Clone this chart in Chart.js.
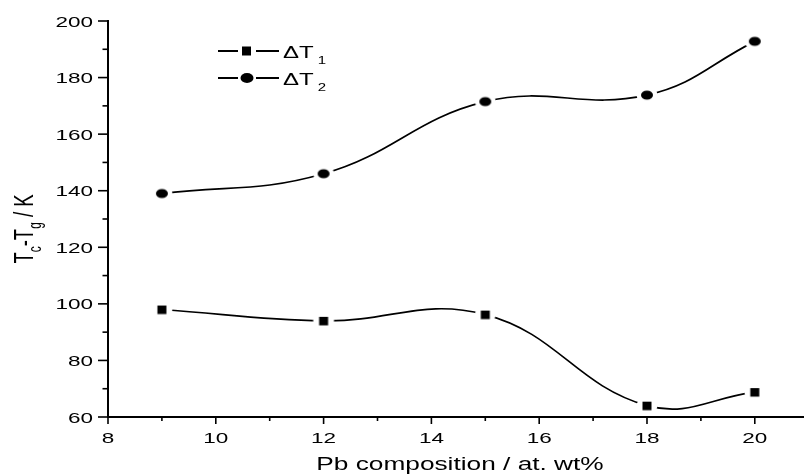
<!DOCTYPE html>
<html lang="en">
<head>
    <meta charset="UTF-8">
    <title>Tc-Tg vs Pb composition</title>
    <script src="https://cdn.jsdelivr.net/npm/chart.js"></script>
    <style>body { margin: 0; background: #fff; }</style>
</head>
<body>
<canvas id="tcChart" width="809" height="476"></canvas>
<script>
    // values
    const pbComposition = [9, 12, 15, 18, 20];
    const deltaT1 = [98, 94, 96.2, 64, 68.8];
    const deltaT2 = [139, 146, 171.5, 173.8, 192.8];
    const seriesNames = ['ΔT', 'ΔT'];
    const seriesSubs = ['1', '2'];
    const xTickLabels = [8, 10, 12, 14, 16, 18, 20];
    const yTickLabels = [60, 80, 100, 120, 140, 160, 180, 200];

    const FONT = '"Liberation Sans", Arial, sans-serif';
    const STRETCH = 1.5; // the original figure is squashed wide

    // marker images with a white halo so the curve stops short of them
    function makeMarker(kind) {
        const c = document.createElement('canvas');
        c.width = 24; c.height = 18;
        const g = c.getContext('2d');
        g.fillStyle = '#fff';
        g.beginPath();
        g.ellipse(12, 9, 10.5, 8, 0, 0, Math.PI * 2);
        g.fill();
        g.fillStyle = '#000';
        if (kind === 'square') {
            g.fillRect(7.5, 5, 9, 8.5);
        } else {
            g.beginPath();
            g.ellipse(12, 9, 6, 4.5, 0, 0, Math.PI * 2);
            g.fill();
        }
        return c;
    }
    const squareMark = makeMarker('square');
    const roundMark = makeMarker('round');

    // draw text widened horizontally; returns drawn width
    function wideText(ctx, text, x, y, size, align) {
        ctx.save();
        ctx.font = size + 'px ' + FONT;
        const w = ctx.measureText(text).width * STRETCH;
        const x0 = align === 'center' ? x - w / 2 : align === 'right' ? x - w : x;
        ctx.translate(x0, y);
        ctx.scale(STRETCH, 1);
        ctx.textAlign = 'left';
        ctx.textBaseline = 'alphabetic';
        ctx.fillStyle = '#000';
        ctx.fillText(text, 0, 0);
        ctx.restore();
        return w;
    }

    const axisDecor = {
        id: 'axisDecor',
        afterDraw(chart) {
            const ctx = chart.ctx;
            const a = chart.chartArea;
            const xs = chart.scales.x, ys = chart.scales.y;
            ctx.save();
            ctx.strokeStyle = '#000';
            ctx.lineWidth = 1.6;

            // x ticks (outside, minor ones shorter)
            xs.ticks.forEach(t => {
                if (!Number.isInteger(t.value)) return;
                const px = xs.getPixelForValue(t.value);
                const len = xTickLabels.includes(t.value) ? 7 : 4;
                ctx.beginPath();
                ctx.moveTo(px, a.bottom);
                ctx.lineTo(px, a.bottom + len);
                ctx.stroke();
            });
            ys.ticks.forEach(t => {
                const py = ys.getPixelForValue(t.value);
                const len = yTickLabels.includes(t.value) ? 10 : 5.5;
                ctx.beginPath();
                ctx.moveTo(a.left - len, py);
                ctx.lineTo(a.left, py);
                ctx.stroke();
            });

            xTickLabels.forEach(v => {
                wideText(ctx, String(v), xs.getPixelForValue(v), a.bottom + 26, 15, 'center');
            });
            yTickLabels.forEach(v => {
                wideText(ctx, String(v), a.left - 15, ys.getPixelForValue(v) + 5.5, 15, 'right');
            });

            // x title
            wideText(ctx, 'Pb composition / at. wt%', 460, 470, 17.5, 'center');

            // y title with subscripts, rotated
            const parts = [['T', 18.5, 0], ['c', 12, 5], ['-T', 18.5, 0], ['g', 12, 5], [' / K', 18.5, 0]];
            ctx.save();
            let total = 0;
            parts.forEach(p => { ctx.font = p[1] + 'px ' + FONT; total += ctx.measureText(p[0]).width; });
            ctx.translate(33, 229);
            ctx.scale(STRETCH, 1);
            ctx.rotate(-Math.PI / 2);
            ctx.fillStyle = '#000';
            ctx.textBaseline = 'alphabetic';
            let cx = -total / 2;
            parts.forEach(p => {
                ctx.font = p[1] + 'px ' + FONT;
                ctx.fillText(p[0], cx, p[2]);
                cx += ctx.measureText(p[0]).width;
            });
            ctx.restore();

            // legend inside the plot
            chart.data.datasets.forEach((ds, i) => {
                const ly = 51 + i * 27;
                ctx.lineWidth = 1.8;
                ctx.beginPath();
                ctx.moveTo(218, ly);
                ctx.lineTo(279, ly);
                ctx.stroke();
                ctx.fillStyle = '#fff';
                ctx.fillRect(238, ly - 6, 18, 12);
                ctx.fillStyle = '#000';
                if (i === 0) {
                    ctx.fillRect(242, ly - 4.5, 9, 9);
                } else {
                    ctx.beginPath();
                    ctx.ellipse(247, ly, 6.5, 5, 0, 0, Math.PI * 2);
                    ctx.fill();
                }
                const w = wideText(ctx, seriesNames[i], 283, ly + 7, 16, 'left');
                wideText(ctx, seriesSubs[i], 283 + w + 4, ly + 13, 10, 'left');
            });
            ctx.restore();
        }
    };

    const ctx = document.getElementById('tcChart').getContext('2d');
    const tcChart = new Chart(ctx, {
        type: 'line',
        data: {
            datasets: [
                {
                    label: 'ΔT1',
                    data: pbComposition.map((x, i) => ({ x: x, y: deltaT1[i] })),
                    borderColor: '#000',
                    borderWidth: 1.7,
                    tension: 0.42,
                    fill: false,
                    pointStyle: squareMark
                },
                {
                    label: 'ΔT2',
                    data: pbComposition.map((x, i) => ({ x: x, y: deltaT2[i] })),
                    borderColor: '#000',
                    borderWidth: 1.7,
                    tension: 0.42,
                    fill: false,
                    pointStyle: roundMark
                }
            ]
        },
        options: {
            responsive: false,
            animation: false,
            layout: { padding: { top: 21, right: 1, left: 0, bottom: 0 } },
            plugins: { legend: { display: false }, tooltip: { enabled: false } },
            scales: {
                x: {
                    type: 'linear',
                    min: 8,
                    max: 20.9,
                    ticks: { stepSize: 1, display: false },
                    grid: { display: false },
                    border: { display: true, color: '#000', width: 2 },
                    afterFit: s => { s.height = 59; }
                },
                y: {
                    min: 60,
                    max: 200,
                    ticks: { stepSize: 10, display: false },
                    grid: { display: false },
                    border: { display: true, color: '#000', width: 2 },
                    afterFit: s => { s.width = 108; }
                }
            }
        },
        plugins: [axisDecor]
    });
</script>
</body>
</html>
